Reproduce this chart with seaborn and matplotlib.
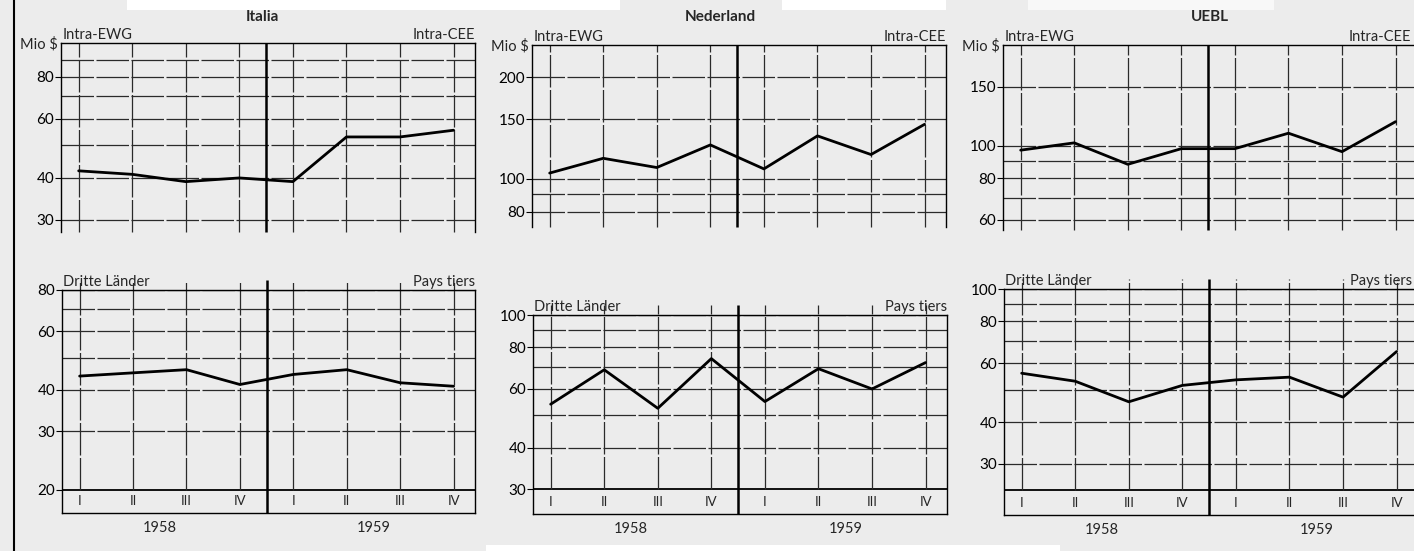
import numpy as np
import pandas as pd
import matplotlib
matplotlib.use('Agg')
import matplotlib.pyplot as plt
import seaborn as sns
from matplotlib.ticker import FixedLocator, FixedFormatter, NullLocator
from matplotlib.lines import Line2D
from matplotlib.patches import Rectangle

# quarters 1958 I .. 1959 IV
quarters = ['I', 'II', 'III', 'IV', 'I', 'II', 'III', 'IV']
years = ['1958', '1959']
countries = ['Italia', 'Nederland', 'UEBL']

# Mio $, intra-EWG trade
italia_intra = [42, 41, 39, 40, 39, 53, 53, 55.5]
nederland_intra = [104, 115, 108, 126, 107, 134, 118, 145]
uebl_intra = [97, 102, 88, 98, 98, 109, 96, 118]

# Mio $, trade with third countries
italia_third = [44, 45, 46, 41.5, 44.5, 46, 42, 41]
nederland_third = [54, 68.5, 52.5, 74, 55, 69, 60, 72]
uebl_third = [56, 53, 46, 51.5, 53.5, 54.5, 47.5, 65]

# labelled ticks and grid levels on the log axes
italia_intra_ticks = [30, 40, 60, 80]
italia_intra_grid = [30, 40, 50, 60, 70, 80, 90]
nederland_intra_ticks = [80, 100, 150, 200]
nederland_intra_grid = [80, 90, 100, 150, 200]
uebl_intra_ticks = [60, 80, 100, 150]
uebl_intra_grid = [60, 70, 80, 90, 100, 150]

italia_third_ticks = [20, 30, 40, 60, 80]
italia_third_grid = [20, 30, 40, 50, 60, 70, 80]
nederland_third_ticks = [30, 40, 60, 80, 100]
nederland_third_grid = [30, 40, 50, 60, 70, 80, 90, 100]
uebl_third_ticks = [30, 40, 60, 80, 100]
uebl_third_grid = [25, 30, 40, 50, 60, 70, 80, 90, 100]

W, H = 1414, 551
BG = '#ececec'
GRID = '#2a2a2a'
DASH = (0, (26, 2))

sns.set_style('ticks')
plt.rcParams['font.family'] = ['Lato', 'DejaVu Sans']
plt.rcParams['font.size'] = 10.5


def px_rect(left, top, right, bottom):
    return [left / W, 1 - bottom / H, (right - left) / W, (bottom - top) / H]


def draw_panel(ax, values, ticks, grid, ylim, top_row, box_level=None):
    df = pd.DataFrame({'q': np.arange(len(quarters)), 'value': values})
    lo, hi = ylim
    ax.set_facecolor(BG)
    ax.set_yscale('log')
    ax.set_xlim(-0.33, 7.4)
    ax.set_ylim(lo, hi)

    for g in grid:
        if g == box_level:
            ax.axhline(g, color='black', lw=1.3, zorder=1)
        else:
            ax.axhline(g, color=GRID, lw=0.9, ls=DASH, zorder=1)

    if top_row:
        v0, v1 = lo, hi
    else:
        v0, v1 = box_level, hi * 1.07
    ax.vlines(df['q'], v0, v1, color=GRID, lw=0.9, ls=DASH, clip_on=False, zorder=1)
    ax.vlines(3.5, lo, v1, color='black', lw=1.8, clip_on=False, zorder=2)

    sns.lineplot(data=df, x='q', y='value', ax=ax, color='black', lw=2.0, zorder=3)

    ax.yaxis.set_major_locator(FixedLocator(ticks))
    ax.yaxis.set_major_formatter(FixedFormatter([str(t) for t in ticks]))
    ax.yaxis.set_minor_locator(NullLocator())
    ax.tick_params(axis='y', length=4, width=0.8, pad=1, labelsize=11, colors='black')
    ax.set_xticks([])
    ax.set_xlabel('')
    ax.set_ylabel('')

    for side in ['left', 'right', 'top', 'bottom']:
        ax.spines[side].set_color('black')
        ax.spines[side].set_linewidth(1.0)
    if top_row:
        ax.spines['bottom'].set_visible(False)
    else:
        mid = np.sqrt(lo * box_level)
        for i, q in enumerate(quarters):
            ax.text(i, mid, q, ha='center', va='center', fontsize=9.5)
        for k, yr in enumerate(years):
            ax.annotate(yr, xy=(1.5 + 4 * k, 0), xycoords=ax.get_xaxis_transform(),
                        xytext=(0, -11), textcoords='offset points',
                        ha='center', va='center', fontsize=10.5)


def label_top(ax, left, right, right_shift=0):
    ax.annotate(left, xy=(0, 1), xycoords='axes fraction', xytext=(1, 1),
                textcoords='offset points', ha='left', va='bottom', fontsize=10.5)
    ax.annotate(right, xy=(1, 1), xycoords='axes fraction', xytext=(right_shift, 1),
                textcoords='offset points', ha='right', va='bottom', fontsize=10.5)


def main():
    fig = plt.figure(figsize=(W / 100, H / 100), dpi=100, facecolor=BG)

    # scanned page edges
    fig.add_artist(Rectangle((127 / W, 1 - 10 / H), (620 - 127) / W, 10 / H,
                             transform=fig.transFigure, color='white', lw=0))
    fig.add_artist(Rectangle((782 / W, 1 - 10 / H), (946 - 782) / W, 10 / H,
                             transform=fig.transFigure, color='white', lw=0))
    fig.add_artist(Rectangle((1028 / W, 1 - 10 / H), (1274 - 1028) / W, 10 / H,
                             transform=fig.transFigure, color='#f8f8f8', lw=0))
    fig.add_artist(Rectangle((486 / W, 0), (1060 - 486) / W, 6 / H,
                             transform=fig.transFigure, color='white', lw=0))
    fig.add_artist(Line2D([14 / W, 14 / W], [0, 1], transform=fig.transFigure,
                          color='black', lw=1.5))

    top_specs = [
        (italia_intra, italia_intra_ticks, italia_intra_grid, (27.6, 101), px_rect(61, 43, 475, 232), 262),
        (nederland_intra, nederland_intra_ticks, nederland_intra_grid, (72, 249), px_rect(532, 45, 946, 227), 720),
        (uebl_intra, uebl_intra_ticks, uebl_intra_grid, (56, 200), px_rect(1003, 45, 1417, 230), 1210),
    ]
    bottom_specs = [
        (italia_third, italia_third_ticks, italia_third_grid, (17, 80), 20, px_rect(62, 290, 475, 513)),
        (nederland_third, nederland_third_ticks, nederland_third_grid, (25.3, 100), 30, px_rect(533, 315, 947, 514)),
        (uebl_third, uebl_third_ticks, uebl_third_grid, (21.1, 100), 25, px_rect(1004, 289, 1418, 515)),
    ]

    for name, (vals, ticks, grid, ylim, rect, title_x) in zip(countries, top_specs):
        ax = fig.add_axes(rect)
        draw_panel(ax, vals, ticks, grid, ylim, top_row=True)
        shift = -4 if name == 'UEBL' else 0
        label_top(ax, 'Intra-EWG', 'Intra-CEE', right_shift=shift)
        ax.annotate('Mio $', xy=(0, 1), xycoords='axes fraction', xytext=(-2, -1),
                    textcoords='offset points', ha='right', va='center', fontsize=10.5)
        fig.text(title_x / W, 1 - 17 / H, name, ha='center', va='center',
                 fontsize=11, fontweight='bold')

    for name, (vals, ticks, grid, ylim, box, rect) in zip(countries, bottom_specs):
        ax = fig.add_axes(rect)
        draw_panel(ax, vals, ticks, grid, ylim, top_row=False, box_level=box)
        shift = -4.5 if name == 'UEBL' else 0
        label_top(ax, 'Dritte Länder', 'Pays tiers', right_shift=shift)

    fig.savefig('out.png', dpi=100, facecolor=BG)


if __name__ == "__main__":
    main()
